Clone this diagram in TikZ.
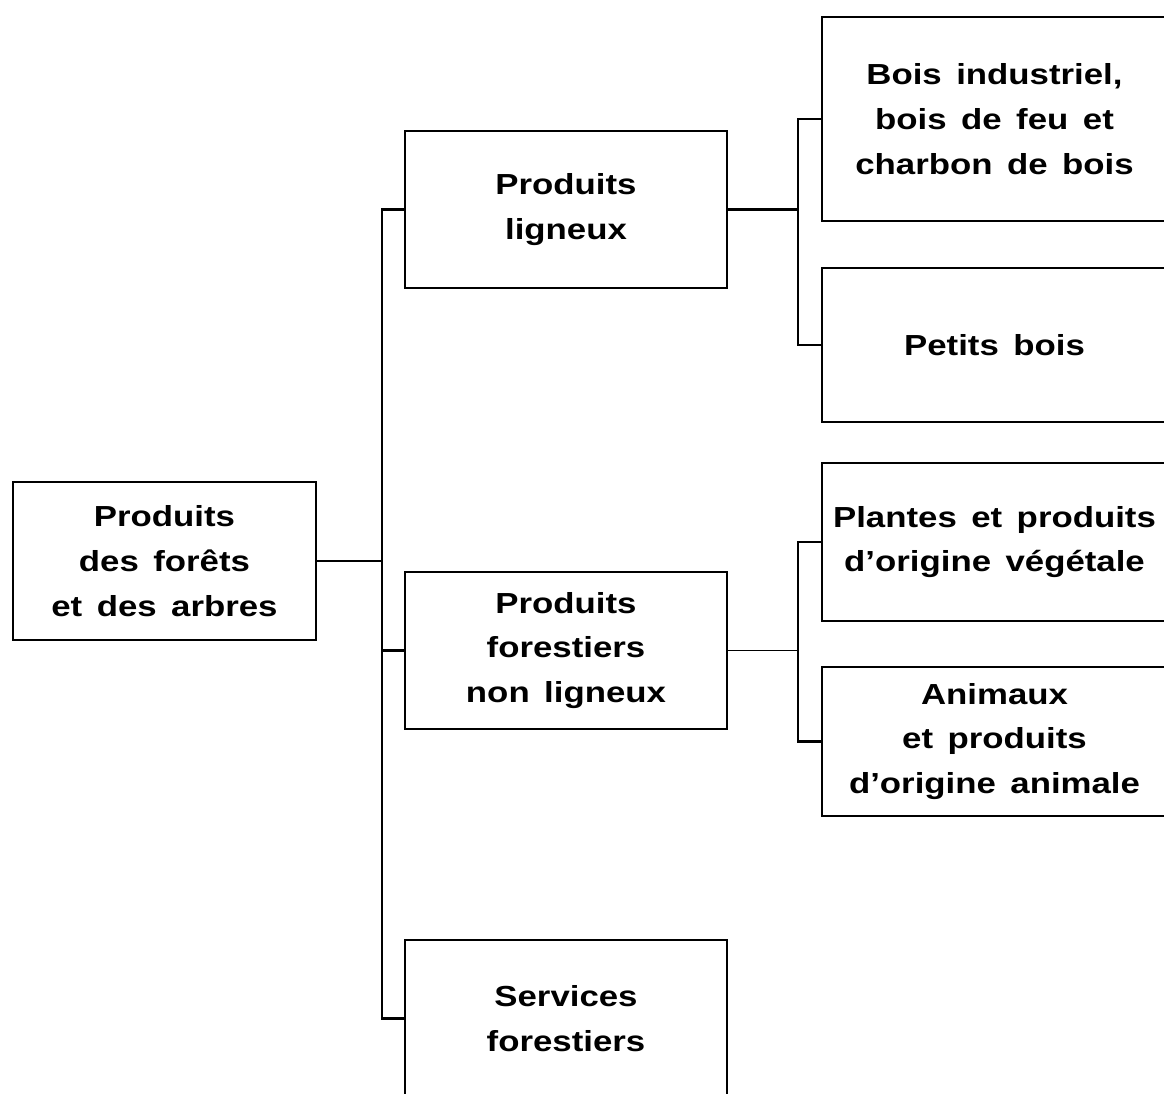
\documentclass[tikz,border=0pt]{standalone}
\usepackage{fontspec}
\setmainfont{Liberation Sans}[FakeStretch=1.2,WordSpace=1.5]
\begin{document}
\begin{tikzpicture}[x=0.02cm, y=-0.02cm,
  every node/.style={font=\fontsize{16.5}{25.5}\selectfont\bfseries},
  box/.style={draw, line width=1.3pt, align=center, inner sep=0pt},
  midbox/.style={box, minimum width=6.44cm, minimum height=3.14cm},
  leafbox/.style={box, minimum width=6.9cm},
  link/.style={line width=1.3pt}]
  \clip (0,0) rectangle (1164,1093);
  \node[box, minimum width=6.06cm, minimum height=3.16cm] (root) at (164.5,561)
    {Produits\\des forêts\\et des arbres};
  \node[midbox] (lign) at (566,209.5) {Produits\\ligneux};
  \node[midbox] (pfnl) at (566,650.5) {Produits\\forestiers\\non ligneux};
  \node[midbox] (serv) at (566,1018.5) {Services\\forestiers};
  \node[leafbox, minimum height=4.08cm] (bois) at (994.5,119)
    {Bois industriel,\\bois de feu et\\charbon de bois};
  \node[leafbox, minimum height=3.08cm] (petits) at (994.5,345) {Petits bois};
  \node[leafbox, minimum height=3.16cm] (plantes) at (994.5,542)
    {Plantes et produits\\d’origine végétale};
  \node[leafbox, minimum height=2.98cm] (animaux) at (994.5,741.5)
    {Animaux\\et produits\\d’origine animale};
  \draw[link] (root.east) -- ++(65,0) coordinate (trunk);
  \foreach \nm in {lign,pfnl,serv}
    \draw[link] (trunk) |- (\nm.west);
  \draw[link] (lign.east) -- ++(70,0) coordinate (bus1);
  \foreach \nm in {bois,petits}
    \draw[link] (bus1) |- (\nm.west);
  \draw[line width=0.6pt] (pfnl.east) -- ++(70,0) coordinate (bus2);
  \foreach \nm in {plantes,animaux}
    \draw[link] (bus2) |- (\nm.west);
\end{tikzpicture}
\end{document}
